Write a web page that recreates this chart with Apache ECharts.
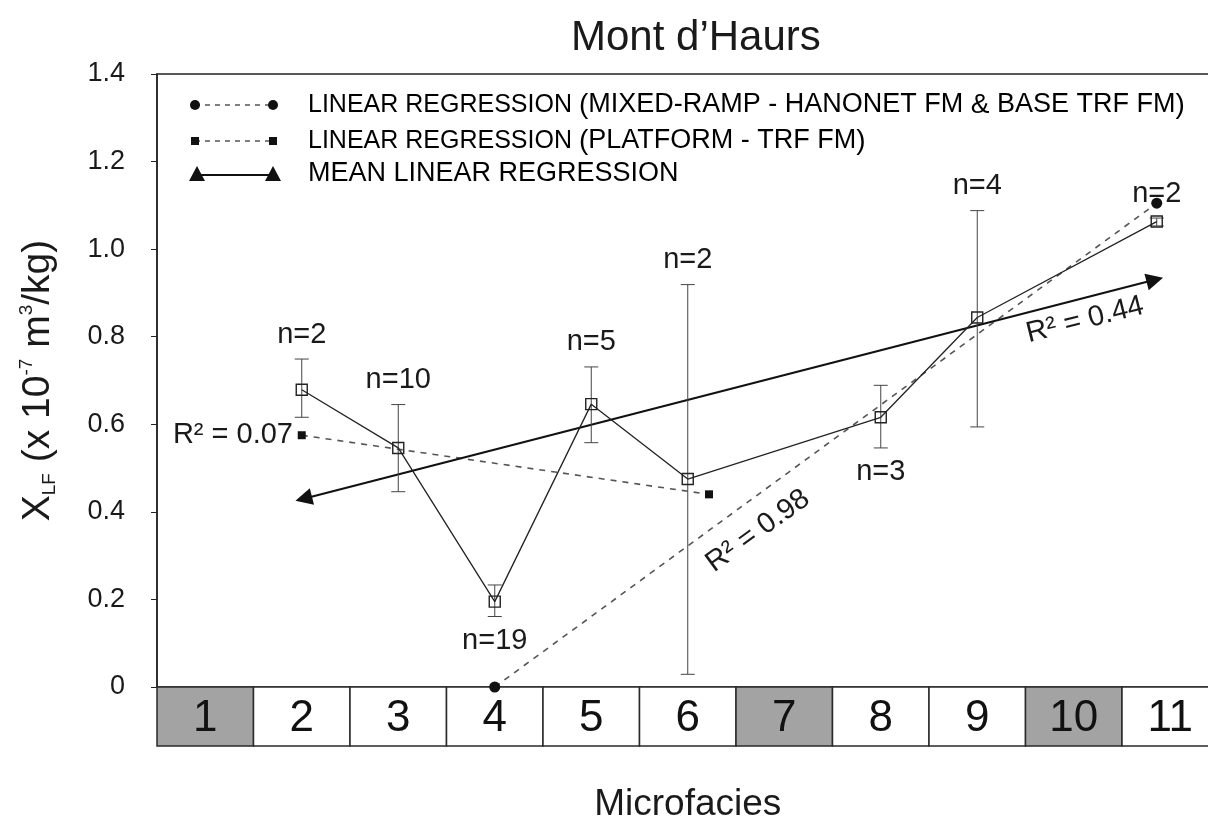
<!DOCTYPE html>
<html>
<head>
<meta charset="utf-8">
<script src="https://cdn.jsdelivr.net/npm/echarts@6/dist/echarts.min.js"></script>
<style>
html, body { margin: 0; padding: 0; background: #fff; }
#chart { width: 1208px; height: 825px; }
</style>
</head>
<body>
<div id="chart"></div>
<script>
// microfacies boxes along the bottom
var microfacies = [1, 2, 3, 4, 5, 6, 7, 8, 9, 10, 11];
var shadedFacies = [1, 7, 10];

// mean XLF per microfacies (x)
var meanX = [2, 3, 4, 5, 6, 8, 9, 10.86];
var meanY = [0.679, 0.546, 0.195, 0.646, 0.475, 0.616, 0.844, 1.063];
var errLow = [0.616, 0.446, 0.161, 0.558, 0.029, 0.546, 0.594, 1.053];
var errHigh = [0.749, 0.645, 0.233, 0.731, 0.919, 0.689, 1.088, 1.071];
var nLabels = ['n=2', 'n=10', 'n=19', 'n=5', 'n=2', 'n=3', 'n=4', 'n=2'];
var nSide = ['top', 'top', 'bottom', 'top', 'top', 'bottom', 'top', 'top'];

// regressions
var rampX = [4, 10.86];
var rampY = [0, 1.105];
var platX = [2, 6.22];
var platY = [0.575, 0.44];
var meanRegX = [2.02, 10.84];
var meanRegY = [0.43, 0.93];

var yMin = 0, yMax = 1.4, yStep = 0.2;

var FONT = '"Liberation Sans", Arial, Helvetica, sans-serif';
var INK = '#1a1a1a';

function pairs(xs, ys) {
    return xs.map(function (x, i) { return [x, ys[i]]; });
}

var myChart = echarts.init(document.getElementById('chart'));

var legendRich = {
    a: { fontFamily: FONT, fontSize: 25, color: INK },
    b: { fontFamily: FONT, fontSize: 27, color: INK },
    p: { fontFamily: FONT, fontSize: 28, color: INK }
};

var option = {
    backgroundColor: '#fff',
    animation: false,
    title: {
        text: 'Mont d\u2019Haurs',
        left: 566,
        top: 12,
        textStyle: { fontFamily: FONT, fontSize: 42, fontWeight: 'normal', color: INK }
    },
    grid: [
        { left: 157, top: 74, width: 1061.5, height: 613, outerBoundsMode: 'none', show: true, borderColor: '#222', borderWidth: 1.5 },
        { left: 157, top: 687, width: 1061.5, height: 59, outerBoundsMode: 'none' }
    ],
    xAxis: [{
        gridIndex: 0, type: 'value', min: 0.5, max: 11.5,
        axisLine: { show: false }, axisTick: { show: false }, axisLabel: { show: false }, splitLine: { show: false }
    }, {
        gridIndex: 1, type: 'value', min: 0.5, max: 11.5,
        name: 'Microfacies', nameLocation: 'middle', nameGap: 40,
        nameTextStyle: { fontFamily: FONT, fontSize: 37, color: INK },
        axisLine: { show: false }, axisTick: { show: false }, axisLabel: { show: false }, splitLine: { show: false }
    }],
    yAxis: [{
        gridIndex: 0, type: 'value', min: yMin, max: yMax, interval: yStep,
        name: '{m|X}{s|LF}{m| (x 10}{u|-7}{m| m}{u|3}{m|/kg)}',
        nameLocation: 'middle', nameRotate: 90, nameGap: 98,
        nameTextStyle: {
            rich: {
                m: { fontFamily: FONT, fontSize: 39, color: INK, lineHeight: 42 },
                s: { fontFamily: FONT, fontSize: 19, color: INK, verticalAlign: 'bottom', lineHeight: 42 },
                u: { fontFamily: FONT, fontSize: 19, color: INK, verticalAlign: 'top', lineHeight: 42 }
            }
        },
        axisLine: { show: true, lineStyle: { color: '#222', width: 1.5 } },
        axisTick: { show: true, length: 6, lineStyle: { color: '#222' } },
        axisLabel: {
            margin: 32, fontFamily: FONT, fontSize: 27, color: INK,
            formatter: function (v) { return v === 0 ? '0' : v.toFixed(1); }
        },
        splitLine: { show: false }
    }, {
        gridIndex: 1, type: 'value', min: 0, max: 1, show: false
    }],
    series: [
        {
            name: 'boxes', type: 'custom', xAxisIndex: 1, yAxisIndex: 1,
            data: microfacies.map(function (m) { return [m, shadedFacies.indexOf(m) >= 0 ? 1 : 0]; }),
            renderItem: function (params, api) {
                var m = api.value(0);
                var p0 = api.coord([m - 0.5, 1]);
                var p1 = api.coord([m + 0.5, 0]);
                return {
                    type: 'group',
                    children: [{
                        type: 'rect',
                        shape: { x: p0[0], y: p0[1], width: p1[0] - p0[0], height: p1[1] - p0[1] },
                        style: { fill: api.value(1) ? '#a3a3a3' : '#fff', stroke: '#2a2a2a', lineWidth: 1.5 }
                    }, {
                        type: 'text',
                        x: (p0[0] + p1[0]) / 2, y: (p0[1] + p1[1]) / 2 + 2,
                        style: { text: String(m), fontFamily: FONT, fontSize: 44, fill: '#111', align: 'center', verticalAlign: 'middle' }
                    }]
                };
            },
            silent: true
        },
        {
            name: 'error', type: 'custom',
            data: meanX.map(function (x, i) { return [x, errLow[i], errHigh[i]]; }),
            renderItem: function (params, api) {
                var lo = api.coord([api.value(0), api.value(1)]);
                var hi = api.coord([api.value(0), api.value(2)]);
                var cap = 7;
                var st = { stroke: '#444', lineWidth: 1 };
                return {
                    type: 'group',
                    children: [
                        { type: 'line', shape: { x1: lo[0], y1: lo[1], x2: hi[0], y2: hi[1] }, style: st },
                        { type: 'line', shape: { x1: lo[0] - cap, y1: lo[1], x2: lo[0] + cap, y2: lo[1] }, style: st },
                        { type: 'line', shape: { x1: hi[0] - cap, y1: hi[1], x2: hi[0] + cap, y2: hi[1] }, style: st }
                    ]
                };
            },
            z: 3
        },
        {
            name: 'platform', type: 'line', clip: false,
            data: pairs(platX, platY),
            symbol: 'rect', symbolSize: 8,
            itemStyle: { color: '#111' },
            lineStyle: { color: '#555', width: 1.6, type: [6, 6] },
            z: 2
        },
        {
            name: 'ramp', type: 'line', clip: false,
            data: pairs(rampX, rampY),
            symbol: 'circle', symbolSize: 11,
            itemStyle: { color: '#111' },
            lineStyle: { color: '#555', width: 1.6, type: [6, 6] },
            z: 2
        },
        {
            name: 'meanReg', type: 'line', clip: false,
            data: pairs(meanRegX, meanRegY),
            symbol: 'triangle', symbolSize: 17,
            itemStyle: { color: '#111' },
            lineStyle: { color: '#111', width: 2.2 },
            z: 2
        },
        {
            name: 'mean', type: 'line', clip: false,
            data: pairs(meanX, meanY),
            symbol: 'rect', symbolSize: 11,
            itemStyle: { color: 'rgba(255,255,255,0)', borderColor: '#222', borderWidth: 1.4 },
            lineStyle: { color: '#222', width: 1.3 },
            z: 4
        },
        {
            name: 'nLabels', type: 'scatter', symbolSize: 0, silent: true,
            itemStyle: { opacity: 1 },
            data: meanX.map(function (x, i) {
                return {
                    value: [x, nSide[i] === 'top' ? errHigh[i] : errLow[i]],
                    name: nLabels[i],
                    label: { position: nSide[i] }
                };
            }),
            label: {
                show: true, distance: 10, formatter: '{b}', opacity: 1,
                fontFamily: FONT, fontSize: 29, color: INK
            },
            z: 5
        }
    ],
    graphic: [
        // legend
        { type: 'line', shape: { x1: 195, y1: 105, x2: 273, y2: 105 }, style: { stroke: '#555', lineWidth: 1.6, lineDash: [5, 5] } },
        { type: 'circle', shape: { cx: 195, cy: 105, r: 5 }, style: { fill: '#111' } },
        { type: 'circle', shape: { cx: 273, cy: 105, r: 5 }, style: { fill: '#111' } },
        { type: 'text', x: 308, y: 105, style: {
            text: '{a|LINEAR REGRESSION }{p|(}{b|MIXED-RAMP - HANONET FM }{p|&}{b| BASE TRF FM}{p|)}',
            rich: legendRich, verticalAlign: 'middle' } },
        { type: 'line', shape: { x1: 195, y1: 141, x2: 273, y2: 141 }, style: { stroke: '#555', lineWidth: 1.6, lineDash: [5, 5] } },
        { type: 'rect', shape: { x: 191, y: 137, width: 8, height: 8 }, style: { fill: '#111' } },
        { type: 'rect', shape: { x: 269, y: 137, width: 8, height: 8 }, style: { fill: '#111' } },
        { type: 'text', x: 308, y: 141, style: {
            text: '{a|LINEAR REGRESSION }{p|(}{b|PLATFORM - TRF FM}{p|)}',
            rich: legendRich, verticalAlign: 'middle' } },
        { type: 'line', shape: { x1: 197, y1: 175, x2: 273, y2: 175 }, style: { stroke: '#111', lineWidth: 2.2 } },
        { type: 'polygon', shape: { points: [[189, 181], [197, 166], [205, 181]] }, style: { fill: '#111' } },
        { type: 'polygon', shape: { points: [[265, 181], [273, 166], [281, 181]] }, style: { fill: '#111' } },
        { type: 'text', x: 308, y: 174, style: {
            text: '{b|MEAN LINEAR REGRESSION}',
            rich: legendRich, verticalAlign: 'middle' } },
        // R² annotations
        { type: 'text', x: 293, y: 435, style: { text: 'R\u00b2 = 0.07', fontFamily: FONT, fontSize: 29, fill: INK, align: 'right', verticalAlign: 'middle' } },
        { type: 'text', x: 758, y: 531, rotation: 36 * Math.PI / 180, style: { text: 'R\u00b2 = 0.98', fontFamily: FONT, fontSize: 29, fill: INK, align: 'center', verticalAlign: 'middle' } },
        { type: 'text', x: 1085, y: 320, rotation: 14 * Math.PI / 180, style: { text: 'R\u00b2 = 0.44', fontFamily: FONT, fontSize: 29, fill: INK, align: 'center', verticalAlign: 'middle' } }
    ]
};

myChart.setOption(option);

// orient the mean-regression triangles along the line
var pA = myChart.convertToPixel({ gridIndex: 0 }, [meanRegX[0], meanRegY[0]]);
var pB = myChart.convertToPixel({ gridIndex: 0 }, [meanRegX[1], meanRegY[1]]);
var ang = Math.atan2(pA[1] - pB[1], pB[0] - pA[0]) * 180 / Math.PI;
myChart.setOption({
    series: [{
        name: 'meanReg',
        data: [
            { value: [meanRegX[0], meanRegY[0]], symbolRotate: 90 + ang },
            { value: [meanRegX[1], meanRegY[1]], symbolRotate: -90 + ang }
        ]
    }]
});
</script>
</body>
</html>
